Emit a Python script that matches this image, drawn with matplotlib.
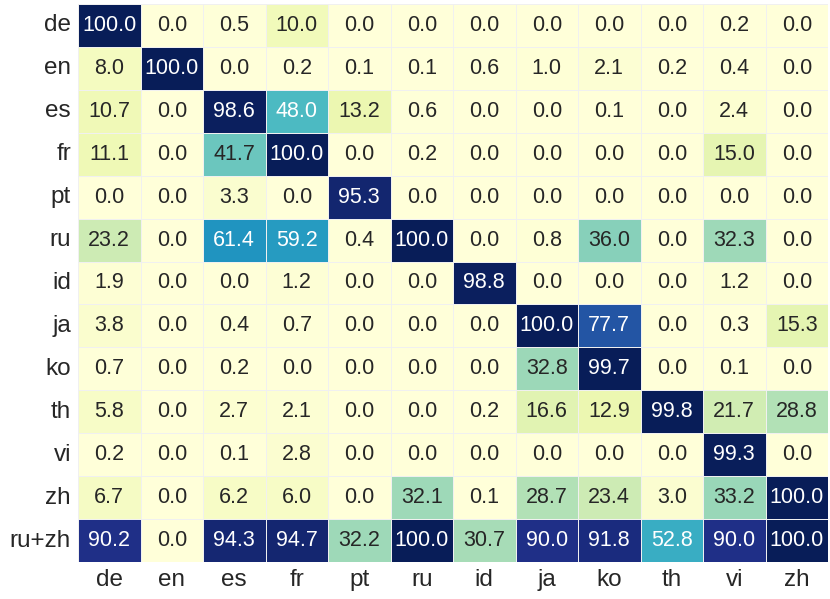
import matplotlib
matplotlib.use("Agg")
import matplotlib.pyplot as plt
import seaborn as sns
import numpy as np

rows = ["de", "en", "es", "fr", "pt", "ru", "id", "ja", "ko", "th", "vi", "zh", "ru+zh"]
cols = ["de", "en", "es", "fr", "pt", "ru", "id", "ja", "ko", "th", "vi", "zh"]

r_de = [100.0, 0.0, 0.5, 10.0, 0.0, 0.0, 0.0, 0.0, 0.0, 0.0, 0.2, 0.0]
r_en = [8.0, 100.0, 0.0, 0.2, 0.1, 0.1, 0.6, 1.0, 2.1, 0.2, 0.4, 0.0]
r_es = [10.7, 0.0, 98.6, 48.0, 13.2, 0.6, 0.0, 0.0, 0.1, 0.0, 2.4, 0.0]
r_fr = [11.1, 0.0, 41.7, 100.0, 0.0, 0.2, 0.0, 0.0, 0.0, 0.0, 15.0, 0.0]
r_pt = [0.0, 0.0, 3.3, 0.0, 95.3, 0.0, 0.0, 0.0, 0.0, 0.0, 0.0, 0.0]
r_ru = [23.2, 0.0, 61.4, 59.2, 0.4, 100.0, 0.0, 0.8, 36.0, 0.0, 32.3, 0.0]
r_id = [1.9, 0.0, 0.0, 1.2, 0.0, 0.0, 98.8, 0.0, 0.0, 0.0, 1.2, 0.0]
r_ja = [3.8, 0.0, 0.4, 0.7, 0.0, 0.0, 0.0, 100.0, 77.7, 0.0, 0.3, 15.3]
r_ko = [0.7, 0.0, 0.2, 0.0, 0.0, 0.0, 0.0, 32.8, 99.7, 0.0, 0.1, 0.0]
r_th = [5.8, 0.0, 2.7, 2.1, 0.0, 0.0, 0.2, 16.6, 12.9, 99.8, 21.7, 28.8]
r_vi = [0.2, 0.0, 0.1, 2.8, 0.0, 0.0, 0.0, 0.0, 0.0, 0.0, 99.3, 0.0]
r_zh = [6.7, 0.0, 6.2, 6.0, 0.0, 32.1, 0.1, 28.7, 23.4, 3.0, 33.2, 100.0]
r_ruzh = [90.2, 0.0, 94.3, 94.7, 32.2, 100.0, 30.7, 90.0, 91.8, 52.8, 90.0, 100.0]

data = np.array([r_de, r_en, r_es, r_fr, r_pt, r_ru, r_id, r_ja, r_ko, r_th, r_vi, r_zh, r_ruzh])

sns.set_theme(style="white")
plt.rcParams['font.family'] = ['Liberation Sans', 'DejaVu Sans']

fig = plt.figure(figsize=(8.3, 5.99), dpi=100)
ax = fig.add_axes([78 / 830, 1 - 562 / 599, (828 - 78) / 830, (562 - 4) / 599])
sns.heatmap(data, ax=ax, cmap="YlGnBu", vmin=0, vmax=100, annot=True, fmt=".1f",
            annot_kws={"size": 15.5}, cbar=False, linewidths=0.5, linecolor="#f0f0f0",
            xticklabels=cols, yticklabels=rows)
# text colour: white on dark cells, dark on light cells
for t, v in zip(ax.texts, data.flatten()):
    t.set_color("white" if v >= 45 else "#262626")
ax.tick_params(axis="both", labelsize=17.5, length=0, pad=5)
plt.setp(ax.get_yticklabels(), rotation=0)
plt.setp(ax.get_xticklabels(), rotation=0)
fig.savefig("out.png", dpi=100)
